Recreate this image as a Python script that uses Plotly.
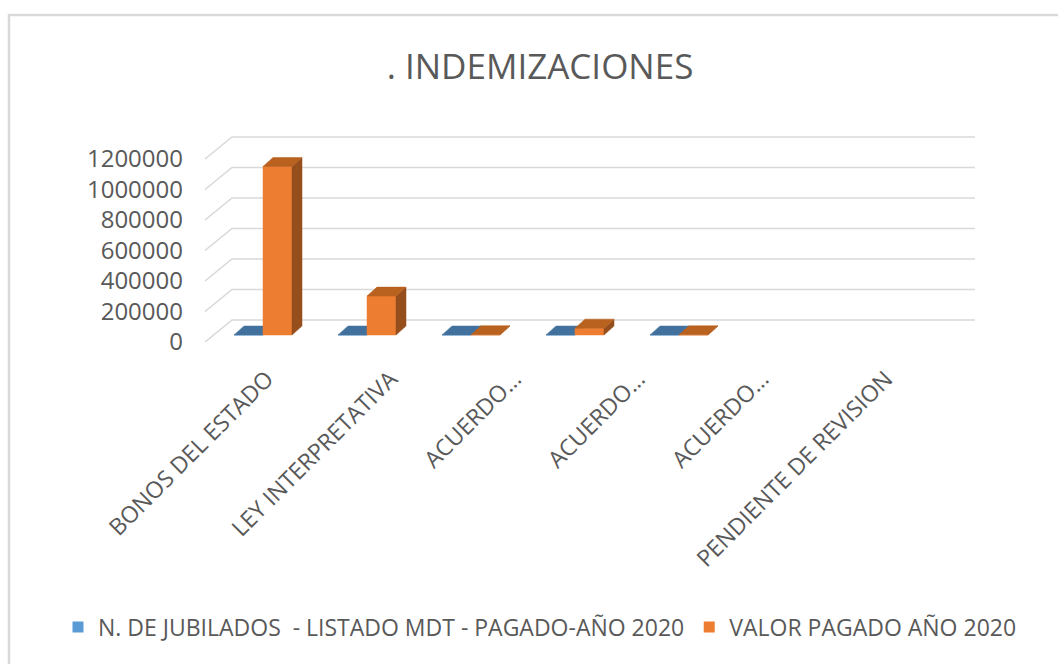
import plotly.graph_objects as go

# ---------------- data ----------------
categories = ["BONOS DEL ESTADO", "LEY INTERPRETATIVA", "ACUERDO…", "ACUERDO…",
              "ACUERDO…", "PENDIENTE DE REVISION"]
series_names = ["N. DE JUBILADOS  - LISTADO MDT - PAGADO-AÑO 2020", "VALOR PAGADO AÑO 2020"]
jubilados = [25, 8, 1, 3, 1, None]
valor_pagado = [1105000, 255000, 2000, 45000, 1500, None]
y_ticks = [0, 200000, 400000, 600000, 800000, 1000000, 1200000]

# ---------------- styling / geometry ----------------
W, H = 1058, 664
FL, FR, PT, PB = 205, 975, 128, 342           # front-left edge, wall right edge, top, floor (px)
VAL_PER_PX = 200000 / 30.5
CAT_PX = 123.8                                # front-plane category width
BAR_CAT_PX = 104.0                            # category spacing at the bars' depth
BAR_C0_PX = 263.0                             # first bar-pair centre (pixels)
WALL_DX_PX, WALL_DY_PX = 27, 22               # depth of the floor/back wall
BAR_DX_PX, BAR_DY_PX = 10, 9                  # depth of a bar
BAR_BASE_PX = 7                               # bars sit slightly behind the front
BAR_W_PX = 29

TEXT = "#595959"
GRID = "#D9D9D9"
FONT = "Open Sans"
colors = {
    0: dict(front="#5B9BD5", top="#41719C", side="#335C82"),
    1: dict(front="#ED7D31", top="#B9611F", side="#964E1C"),
}

x0 = -0.5
xr = [x0 - FL / CAT_PX, x0 + (W - FL) / CAT_PX]
x_wall_right = x0 + (FR - FL) / CAT_PX
y1 = (PB - PT) * VAL_PER_PX
bxr = [-BAR_C0_PX / BAR_CAT_PX, (W - BAR_C0_PX) / BAR_CAT_PX]

wdx = WALL_DX_PX / CAT_PX
wdy = WALL_DY_PX * VAL_PER_PX
bdx = BAR_DX_PX / BAR_CAT_PX
bdy = BAR_DY_PX * VAL_PER_PX
bw = BAR_W_PX / BAR_CAT_PX
base = BAR_BASE_PX * VAL_PER_PX

fig = go.Figure()

gx, gy = [], []
for v in y_ticks:
    gx += [x0, x0 + wdx, x_wall_right, None]
    gy += [v, v + wdy, v + wdy, None]
fig.add_trace(go.Scatter(x=gx, y=gy, mode="lines", line=dict(color=GRID, width=1.6),
                         hoverinfo="skip", showlegend=False, xaxis="x", yaxis="y"))

def poly(xs, ys, color):
    fig.add_trace(go.Scatter(x=xs + [xs[0]], y=ys + [ys[0]], mode="lines", fill="toself",
                             fillcolor=color, line=dict(color=color, width=0.5),
                             hoverinfo="skip", showlegend=False, xaxis="x2", yaxis="y"))

for i in range(len(categories)):
    for s, vals in enumerate([jubilados, valor_pagado]):
        v = vals[i]
        if v is None:
            continue
        c = colors[s]
        left = i - bw if s == 0 else i
        right = left + bw
        top = base + v
        poly([left, right, right, left], [base, base, top, top], c["front"])
        poly([right, right + bdx, right + bdx, right], [base, base + bdy, top + bdy, top], c["side"])
        poly([left, right, right + bdx, left + bdx], [top, top, top + bdy, top + bdy], c["top"])

for s, name in enumerate(series_names):
    fig.add_trace(go.Scatter(x=[None], y=[None], mode="markers", name=name,
                             marker=dict(symbol="square", size=11, color=colors[s]["front"]),
                             xaxis="x", yaxis="y"))

ph = PB - PT
fig.update_layout(
    width=W, height=H,
    margin=dict(l=0, r=0, t=PT, b=H - PB, autoexpand=False),
    paper_bgcolor="white", plot_bgcolor="rgba(0,0,0,0)",
    font=dict(family=FONT, color=TEXT, size=20),
    title=dict(text=". INDEMIZACIONES", x=540 / W, xref="container", xanchor="center",
               y=1 - 67 / H, yref="container", yanchor="middle",
               font=dict(size=35, color=TEXT, family=FONT)),
    xaxis=dict(range=xr, tickvals=list(range(len(categories))), ticktext=categories,
               tickangle=-45, showgrid=False, zeroline=False, showline=False, ticks="",
               tickfont=dict(size=23, color=TEXT), ticklabelstandoff=18, fixedrange=True),
    xaxis2=dict(range=bxr, overlaying="x", visible=False, fixedrange=True),
    yaxis=dict(range=[0, y1], tickvals=y_ticks, ticktext=[str(v) for v in y_ticks],
               anchor="free", position=FL / W, fixedrange=True,
               showgrid=False, zeroline=False, showline=False, ticks="",
               tickfont=dict(size=24, color=TEXT), ticklabelstandoff=22),
    legend=dict(orientation="h", x=540 / W, xanchor="center",
                y=(PB - 627) / ph, yanchor="middle", font=dict(size=23, color=TEXT),
                itemwidth=30, tracegroupgap=0),
    shapes=[dict(type="path", xref="paper", yref="paper",
                 path=f"M {9 / W} {(PB - H - 10) / ph} L {9 / W} {(PB - 15) / ph} "
                      f"L {(W + 10) / W} {(PB - 15) / ph}",
                 line=dict(color=GRID, width=2.5), layer="below")],
    showlegend=True,
)

fig.write_html("out.html", config={"displayModeBar": False},
               post_script="document.body.style.margin='0';")
